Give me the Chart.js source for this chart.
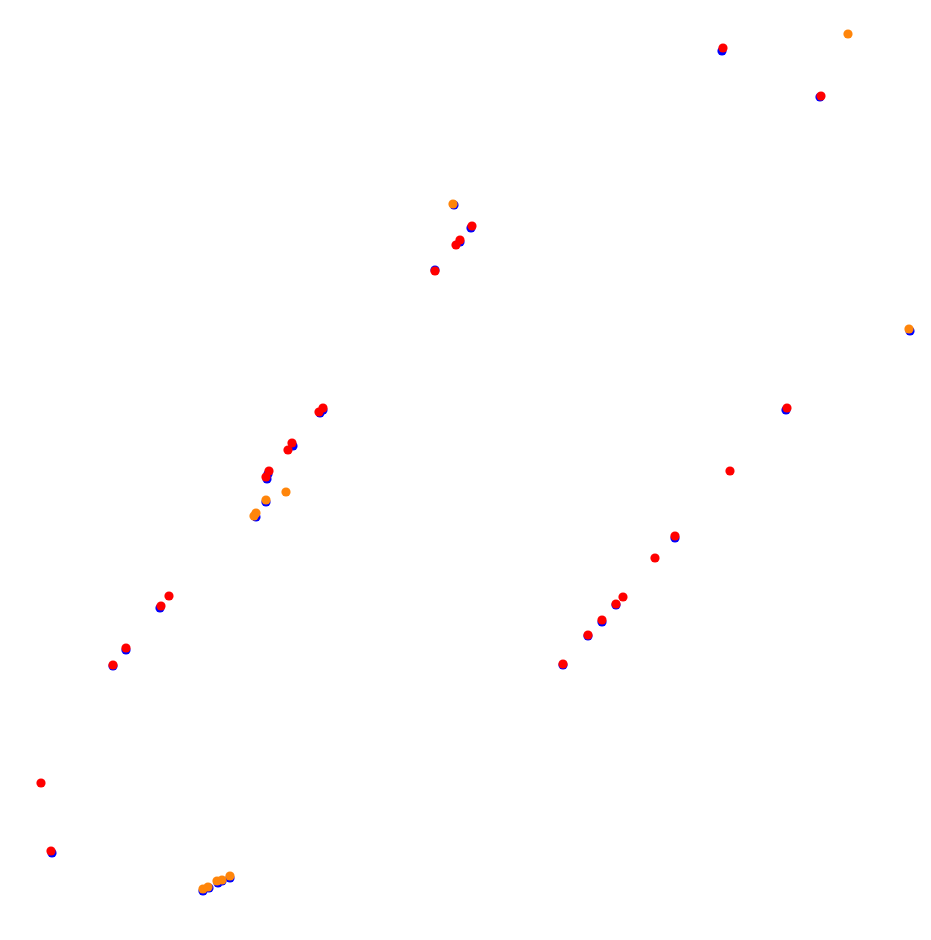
<!DOCTYPE html>
<html>
<head>
<meta charset="utf-8">
<script src="https://cdn.jsdelivr.net/npm/chart.js@4/dist/chart.umd.min.js"></script>
<style>
html,body{margin:0;padding:0;background:#fff;}
#wrap{width:931px;height:940px;position:relative;}
</style>
</head>
<body>
<div id="wrap"><canvas id="c" width="931" height="940"></canvas></div>
<script>
// Series values (x, y)
const blueX = [722, 820, 471, 460, 435, 323, 320, 293, 268, 267, 160, 126, 113, 52, 563, 588, 602, 616, 675, 786, 454, 910, 266, 256, 203, 209, 218, 222, 230];
const blueY = [51, 97, 228, 242, 270, 410, 413, 446, 474, 479, 608, 650, 666, 853, 665, 636, 622, 605, 538, 410, 205, 331, 502, 517, 891, 888, 883, 881, 878];

const redX = [723, 821, 472, 460, 456, 435, 323, 319, 292, 288, 269, 266, 169, 161, 126, 113, 41, 51, 563, 588, 602, 616, 623, 655, 675, 730, 787];
const redY = [48, 96, 226, 240, 245, 271, 408, 412, 443, 450, 471, 477, 596, 606, 648, 665, 783, 851, 664, 635, 620, 604, 597, 558, 536, 471, 408];

const orangeX = [848, 453, 909, 286, 266, 256, 254, 203, 208, 217, 222, 230];
const orangeY = [34, 204, 329, 492, 500, 513, 516, 889, 887, 881, 880, 876];

const toPts = (xs, ys) => xs.map((x, i) => ({x: x, y: ys[i]}));

new Chart(document.getElementById('c'), {
  type: 'scatter',
  data: {
    datasets: [
      {label: 'orange', data: toPts(orangeX, orangeY), backgroundColor: 'rgb(255,133,10)', borderWidth: 0, pointRadius: 4.6, order: 1},
      {label: 'red', data: toPts(redX, redY), backgroundColor: 'rgb(255,0,0)', borderWidth: 0, pointRadius: 4.6, order: 2},
      {label: 'blue', data: toPts(blueX, blueY), backgroundColor: 'rgb(0,0,255)', borderWidth: 0, pointRadius: 4.6, order: 3}
    ]
  },
  options: {
    responsive: false,
    animation: false,
    clip: false,
    layout: {padding: 0, autoPadding: false},
    plugins: {legend: {display: false}, tooltip: {enabled: false}},
    scales: {
      x: {type: 'linear', min: 0, max: 931, display: false},
      y: {type: 'linear', min: 0, max: 940, reverse: true, display: false}
    }
  }
});
</script>
</body>
</html>
